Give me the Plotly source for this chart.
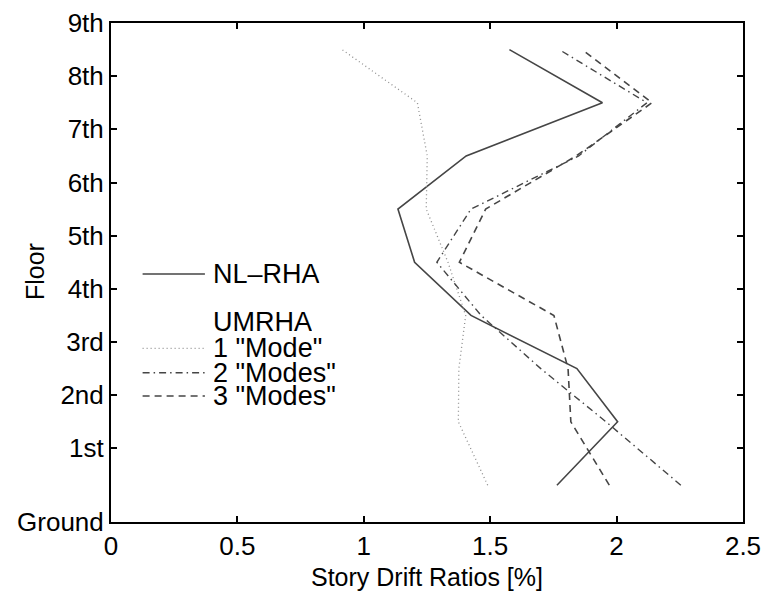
import plotly.graph_objects as go

# Floor elevations (ft) and labels
floor_elev = [0, 18, 31, 44, 57, 70, 83, 96, 109, 122]
floor_labels = ["Ground", "1st", "2nd", "3rd", "4th", "5th", "6th", "7th", "8th", "9th"]

# Story drift ratios [%], story 1 (bottom) to story 9 (top)
nl_rha = [1.764, 2.004, 1.843, 1.424, 1.201, 1.135, 1.405, 1.944, 1.576]
mode1 = [1.490, 1.374, 1.376, 1.403, 1.333, 1.247, 1.251, 1.212, 0.914]
mode2 = [2.254, 1.958, 1.700, 1.464, 1.289, 1.424, 1.850, 2.120, 1.773]
mode3 = [1.971, 1.819, 1.808, 1.752, 1.378, 1.482, 1.840, 2.140, 1.863]

# story mid-heights
story_mid = [(floor_elev[i] + floor_elev[i + 1]) / 2 for i in range(len(floor_elev) - 1)]

FONT = "Liberation Sans, Arial, sans-serif"
DARK = "#454545"
LIGHT = "#8e8e8e"
FS_TICK = 26
FS_LEG = 27
FS_TITLE = 25

series = [
    ("NL\u2013RHA", nl_rha, DARK, "solid", 1.6),
    ('1 "Mode"', mode1, LIGHT, "1px,3px", 1.3),
    ('2 "Modes"', mode2, DARK, "7px,4px,1.5px,4px", 1.4),
    ('3 "Modes"', mode3, DARK, "7px,5px", 1.6),
]

fig = go.Figure()
for name, vals, col, dash, w in series:
    fig.add_trace(go.Scatter(x=vals, y=story_mid, mode="lines", name=name,
                             line=dict(color=col, dash=dash, width=w),
                             showlegend=False))

# manual legend (paper coords)
leg_x0, leg_x1, txt_x = 0.050, 0.1486, 0.158
leg_rows = [
    (0.497, 0),
    (0.348, 1),
    (0.299, 2),
    (0.2525, 3),
]
for yy, idx in leg_rows:
    name, vals, col, dash, w = series[idx]
    fig.add_shape(type="line", xref="paper", yref="paper",
                  x0=leg_x0, x1=leg_x1, y0=yy, y1=yy,
                  line=dict(color=col, dash=dash, width=w))
    fig.add_annotation(xref="paper", yref="paper", x=txt_x, y=yy, text=name,
                       showarrow=False, xanchor="left", yanchor="middle", height=24,
                       font=dict(family=FONT, size=FS_LEG, color="black"))
fig.add_annotation(xref="paper", yref="paper", x=txt_x, y=0.401, text="UMRHA",
                   showarrow=False, xanchor="left", yanchor="middle", height=24,
                   font=dict(family=FONT, size=FS_LEG, color="black"))

# y-axis title placed as annotation
fig.add_annotation(xref="paper", yref="paper", x=-0.1202, y=0.501, text="Floor",
                   textangle=-90, showarrow=False, xanchor="center", yanchor="middle",
                   font=dict(family=FONT, size=FS_TITLE, color="black"))

axis_common = dict(showline=True, linecolor="black", linewidth=2, mirror="allticks",
                   ticks="inside", ticklen=6, tickwidth=1.5, tickcolor="black",
                   showgrid=False, zeroline=False, automargin=False,
                   tickfont=dict(family=FONT, size=FS_TICK, color="black"))

fig.update_xaxes(range=[0, 2.5], tickvals=[0, 0.5, 1, 1.5, 2, 2.5],
                 ticktext=["0", "0.5", "1", "1.5", "2", "2.5"],
                 title=dict(text="Story Drift Ratios [%]", standoff=8,
                            font=dict(family=FONT, size=FS_TITLE, color="black")),
                 **axis_common)
fig.update_yaxes(range=[0, 122], tickvals=floor_elev, ticktext=floor_labels,
                 **axis_common)

fig.update_layout(width=765, height=597,
                  margin=dict(l=111, r=21.5, t=23, b=75),
                  paper_bgcolor="white", plot_bgcolor="white",
                  showlegend=False)

fig.write_html("out.html")
